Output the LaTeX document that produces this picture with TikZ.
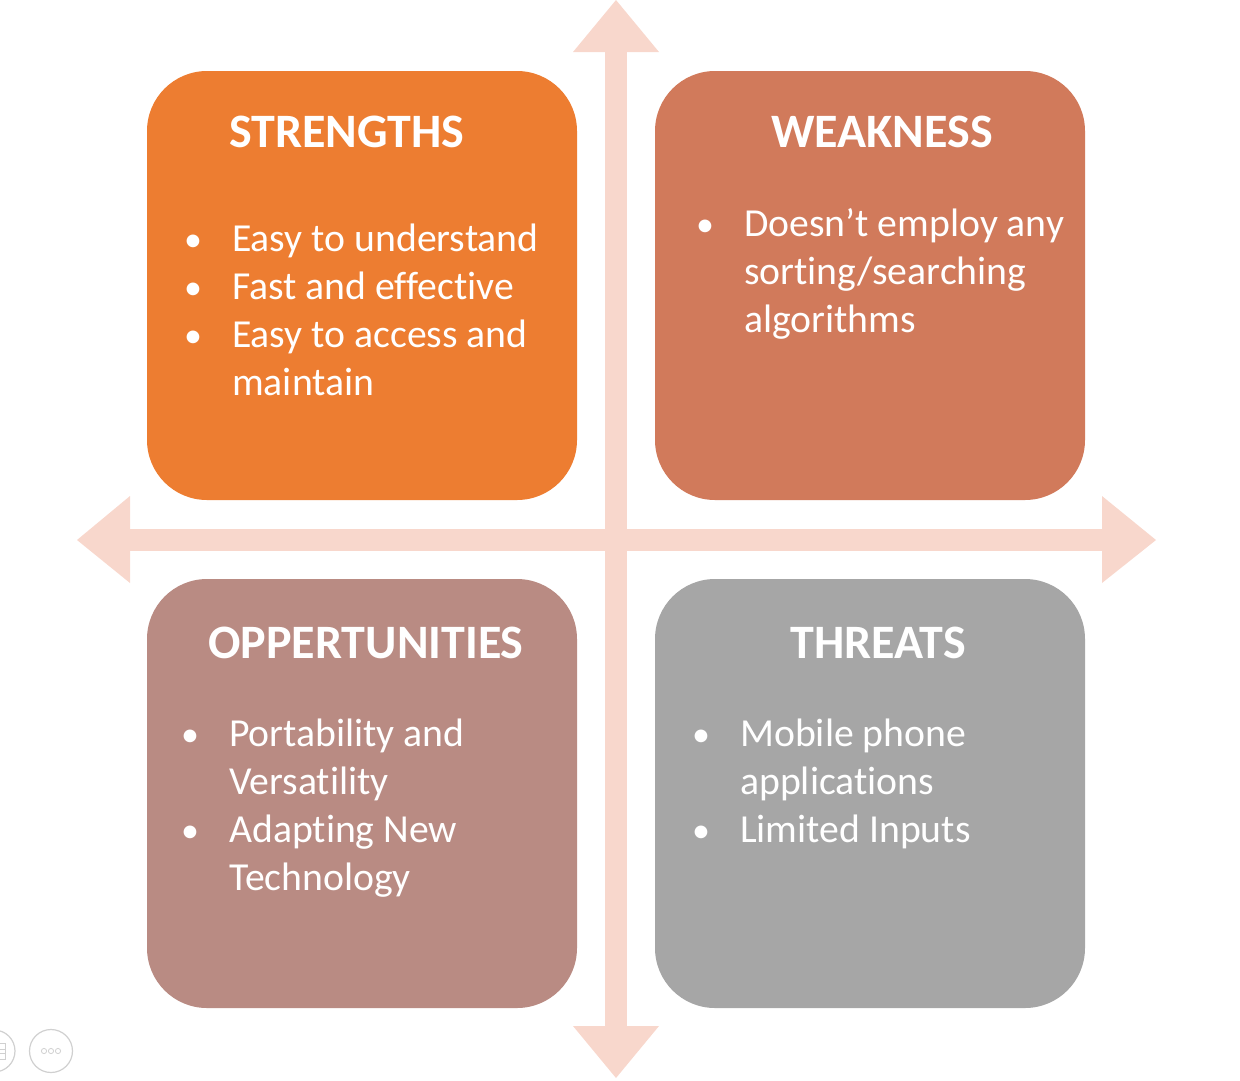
\documentclass[tikz,border=0pt]{standalone}
\usepackage{fontspec}
\setmainfont{Carlito}[RawFeature={-liga}]
\definecolor{cS}{HTML}{ED7D31}
\definecolor{cW}{HTML}{D17A5B}
\definecolor{cO}{HTML}{B98B83}
\definecolor{cT}{HTML}{A6A6A6}
\definecolor{cA}{HTML}{F8D7CC}
\definecolor{cI}{HTML}{D0D0D0}
\begin{document}
\begin{tikzpicture}[x=1pt,y=-1pt,
  quad/.style={rounded corners=60pt, minimum width=430pt, minimum height=429pt, inner sep=0pt, draw=none},
  title/.style={text=white, font=\fontsize{48}{56}\selectfont\bfseries, inner sep=0pt, anchor=base},
  item/.style={text=white, font=\fontsize{39.7}{48}\selectfont, inner sep=0pt, anchor=base west},
  dot/.style={text=white, font=\fontsize{36}{48}\selectfont, inner sep=0pt, anchor=base},
]
\useasboundingbox (0,0) rectangle (1240,1080);
% axes
\fill[cA] (605,52) rectangle (627,1026);
\fill[cA] (130,529) rectangle (1102,551);
\fill[cA] (573,52) -- (616,0) -- (659,52) -- cycle;
\fill[cA] (573,1026) -- (616,1078) -- (659,1026) -- cycle;
\fill[cA] (130,496) -- (77,540) -- (130,583) -- cycle;
\fill[cA] (1102,496) -- (1156,540) -- (1102,583) -- cycle;
% quadrants
\node[quad, fill=cS] (S) at (362,285.5) {};
\node[quad, fill=cW] (W) at (870,285.5) {};
\node[quad, fill=cO] (O) at (362,793.5) {};
\node[quad, fill=cT] (T) at (870,793.5) {};
% strengths
\node[title] (St) at (347,147) {STRENGTHS};
\node[dot] (Sb1) at (193,251) {•};
\node[item] (Si1) at (232,251) {Easy to understand};
\node[dot] (Sb2) at (193,299) {•};
\node[item] (Si2) at (232,299) {Fast and effective};
\node[dot] (Sb3) at (193,347) {•};
\node[item] (Si3) at (232,347) {Easy to access and};
\node[item] (Si4) at (232,395) {maintain};
% weakness
\node[title] (Wt) at (882,147) {WEAKNESS};
\node[dot] (Wb1) at (705,236) {•};
\node[item] (Wi1) at (744,236) {Doesn’t employ any};
\node[item] (Wi2) at (744,284) {sorting/searching};
\node[item] (Wi3) at (744,332) {algorithms};
% opportunities
\node[title] (Ot) at (366,658) {OPPERTUNITIES};
\node[dot] (Ob1) at (190,746) {•};
\node[item] (Oi1) at (229,746) {Portability and};
\node[item] (Oi2) at (229,794) {Versatility};
\node[dot] (Ob2) at (190,842) {•};
\node[item] (Oi3) at (229,842) {Adapting New};
\node[item] (Oi4) at (229,890) {Technology};
% threats
\node[title] (Tt) at (878,658) {THREATS};
\node[dot] (Tb1) at (701,746) {•};
\node[item] (Ti1) at (740,746) {Mobile phone};
\node[item] (Ti2) at (740,794) {applications};
\node[dot] (Tb2) at (701,842) {•};
\node[item] (Ti3) at (740,842) {Limited Inputs};
% corner icons
\draw[cI, line width=1.2pt] (-6,1051) circle (21);
\draw[cI, line width=0.8pt] (-3,1043) rectangle (5,1059);
\draw[cI, line width=0.8pt] (-3,1049) -- (5,1049) (-3,1053) -- (5,1053);
\draw[cI, line width=1.2pt] (51,1051) circle (21.5);
\foreach \k in {-7,0,7} \draw[cI, line width=0.8pt] (51+\k,1051) circle (2.6);
\end{tikzpicture}
\end{document}
